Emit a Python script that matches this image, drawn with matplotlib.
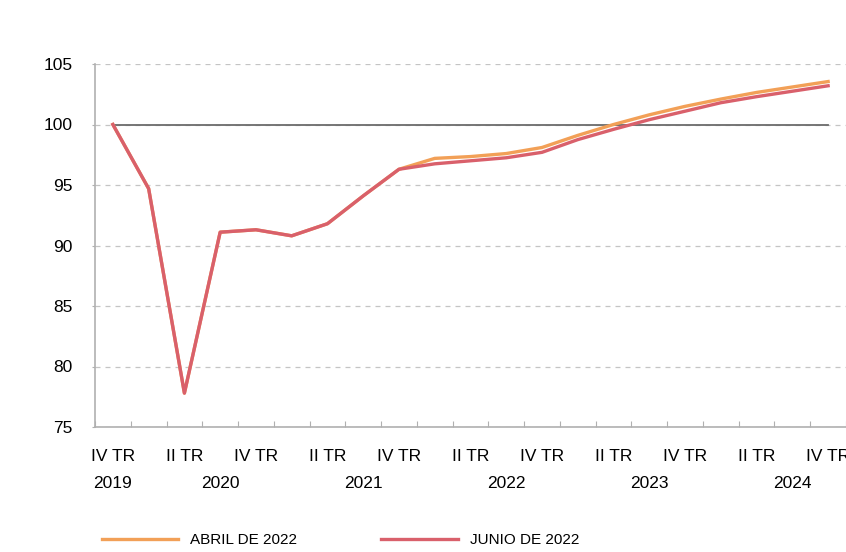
import matplotlib.pyplot as plt
from matplotlib import font_manager

# quarters from IV TR 2019 to IV TR 2024
quarters = ['IV TR', 'I TR', 'II TR', 'III TR'] * 5 + ['IV TR']
shown_quarters = ['IV TR', 'II TR', 'IV TR', 'II TR', 'IV TR', 'II TR', 'IV TR',
                  'II TR', 'IV TR', 'II TR', 'IV TR']
years = ['2019', '2020', '2021', '2022', '2023', '2024']
year_pos = [0, 3, 7, 11, 15, 19]

abril = [100, 94.7, 77.8, 91.1, 91.3, 90.8, 91.8, 94.1, 96.3, 97.2, 97.35, 97.6,
         98.1, 99.1, 100.0, 100.8, 101.5, 102.1, 102.65, 103.1, 103.55]
junio = [100, 94.7, 77.8, 91.1, 91.3, 90.8, 91.8, 94.1, 96.3, 96.75, 97.0, 97.25,
         97.7, 98.75, 99.6, 100.4, 101.1, 101.8, 102.3, 102.75, 103.2]
base = [100] * len(quarters)

names = {f.name for f in font_manager.fontManager.ttflist}
fam = 'Liberation Sans Narrow' if 'Liberation Sans Narrow' in names else 'Liberation Sans'
plt.rcParams['font.family'] = [fam, 'DejaVu Sans']

x = list(range(len(quarters)))

fig = plt.figure(figsize=(8.46, 5.52), dpi=100)
ax = fig.add_axes([95 / 846, 1 - 427 / 552, 1 - 95 / 846, (427 - 64) / 552])

ax.set_ylim(75, 105)
ax.set_xlim(-0.5, 20.5)
ax.set_yticks([75, 80, 85, 90, 95, 100, 105])
ax.yaxis.grid(True, linestyle=(0, (4, 4)), color='#c4c4c4', linewidth=0.9)
ax.set_axisbelow(True)

ax.plot(x, base, color='#6b6b6b', linewidth=1.3)
l1, = ax.plot(x, abril, color='#f2a057', linewidth=2.4, label='ABRIL DE 2022')
l2, = ax.plot(x, junio, color='#d9606b', linewidth=2.4, label='JUNIO DE 2022')

for s in ['top', 'right']:
    ax.spines[s].set_visible(False)
for s in ['left', 'bottom']:
    ax.spines[s].set_color('#b0b0b0')
    ax.spines[s].set_linewidth(1.2)

ax.set_xticks([i - 0.5 for i in range(22)])
ax.set_xticklabels([])
ax.tick_params(axis='x', direction='in', length=4, color='#b0b0b0')
ax.tick_params(axis='y', direction='out', length=2, color='#b0b0b0', labelsize=12.5, pad=14)

trans = ax.get_xaxis_transform()
for i, q in zip(range(0, 21, 2), shown_quarters):
    ax.text(i, -0.08, q, transform=trans, ha='center', va='center', fontsize=12.5,
            clip_on=False)
for p, y in zip(year_pos, years):
    ax.text(p, -0.155, y, transform=trans, ha='center', va='center', fontsize=12.5,
            clip_on=False)

fig.legend(handles=[l1, l2], loc='center left', bbox_to_anchor=(88 / 846, 1 - 540 / 552),
           ncol=2, frameon=False, fontsize=11, handlelength=5, columnspacing=5.5,
           handletextpad=0.8)

fig.savefig('out.png', dpi=100)
